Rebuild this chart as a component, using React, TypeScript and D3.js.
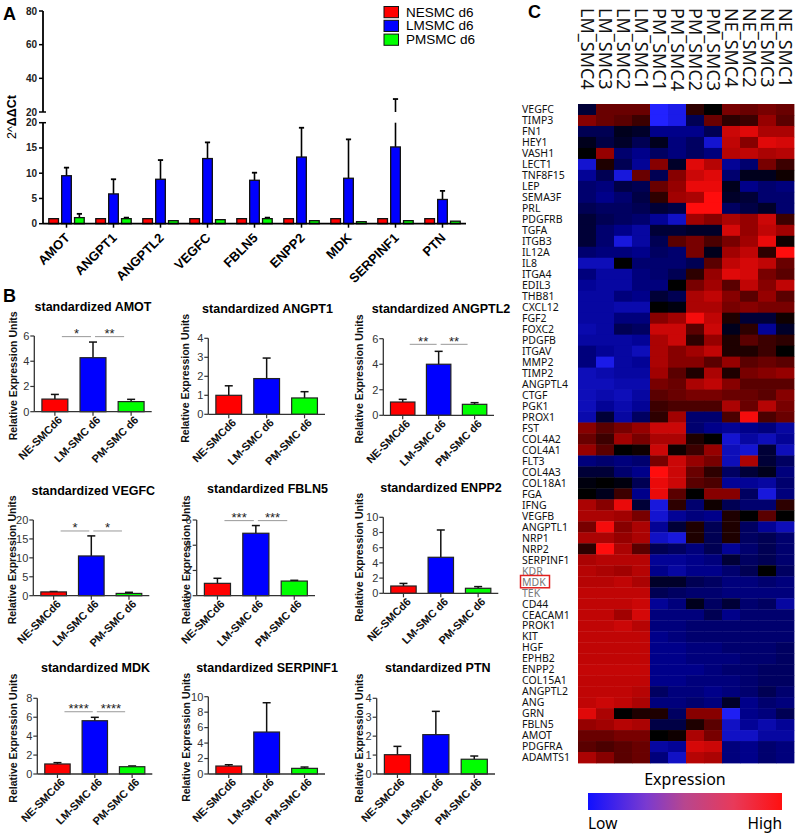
import React from "react";
import * as d3 from "d3";

const ARIAL = "'Liberation Sans', Arial, Helvetica, sans-serif";
const SANS = "'Noto Sans', 'DejaVu Sans', sans-serif";

// ---------- panel A : 2^ΔΔCt per gene ----------
const genesA = ["AMOT", "ANGPT1", "ANGPTL2", "VEGFC", "FBLN5", "ENPP2", "MDK", "SERPINF1", "PTN"];
const seriesA = ["NESMC d6", "LMSMC d6", "PMSMC d6"];
const neA = [1, 1, 1, 1, 1, 1, 1, 1, 1];
const neSdA = [0, 0, 0, 0, 0, 0, 0, 0, 0];
const lmA = [9.5, 5.9, 8.8, 12.9, 8.6, 13.2, 9.0, 15.2, 4.8];
const lmSdA = [1.6, 2.9, 3.8, 3.2, 1.5, 5.8, 7.7, 12.5, 1.7];
const pmA = [1.2, 1.0, 0.6, 0.8, 1.0, 0.6, 0.4, 0.6, 0.5];
const pmSdA = [0.75, 0.2, 0, 0, 0.2, 0, 0, 0, 0];
const lowTicksA = [0, 5, 10, 15, 20];
const highTicksA = [20, 40, 60, 80];

// ---------- panel B : standardized expression ----------
const genesB = ["AMOT", "ANGPT1", "ANGPTL2", "VEGFC", "FBLN5", "ENPP2", "MDK", "SERPINF1", "PTN"];
const groupsB = ["NE-SMCd6", "LM-SMC d6", "PM-SMC d6"];
const maxB = [6, 4, 6, 20, 6, 10, 8, 10, 4];
const stepB = [2, 1, 2, 5, 2, 2, 2, 2, 1];
const neB = [1.0, 1.0, 1.04, 1.0, 0.98, 0.96, 1.06, 1.03, 1.02];
const neSdB = [0.37, 0.5, 0.21, 0.1, 0.4, 0.34, 0.14, 0.17, 0.44];
const lmB = [4.28, 1.88, 4.0, 10.5, 4.95, 4.74, 5.63, 5.43, 2.08];
const lmSdB = [1.24, 1.08, 1.01, 5.3, 0.61, 3.59, 0.36, 3.79, 1.23];
const pmB = [0.8, 0.86, 0.86, 0.6, 1.16, 0.66, 0.77, 0.73, 0.78];
const pmSdB = [0.18, 0.33, 0.13, 0.3, 0.06, 0.22, 0.08, 0.17, 0.17];
const sigLeftB = ["*", "", "**", "*", "***", "", "****", "", ""];
const sigRightB = ["**", "", "**", "*", "***", "", "****", "", ""];
const sigLevelB = [5.95, 0, 5.56, 17.1, 5.95, 0, 6.58, 0, 0];

// plot frames of the 3x3 grid (layout only)
const framesB = [
  { x0: 34.3, x1: 151.7, yTop: 336, yBot: 411.7, tx: 93, ty: 311, lx: 13 },
  { x0: 208.3, x1: 325, yTop: 338.3, yBot: 414.3, tx: 267.5, ty: 313, lx: 185 },
  { x0: 383.3, x1: 494, yTop: 338.7, yBot: 415.3, tx: 441, ty: 313, lx: 359 },
  { x0: 33.3, x1: 149.3, yTop: 520, yBot: 595.7, tx: 93.3, ty: 495, lx: 12 },
  { x0: 196.7, x1: 315, yTop: 520, yBot: 595.7, tx: 267.5, ty: 493, lx: 186 },
  { x0: 383.3, x1: 498.3, yTop: 517.3, yBot: 593.3, tx: 441, ty: 492, lx: 359 },
  { x0: 37.3, x1: 152.3, yTop: 698.3, yBot: 774, tx: 95.5, ty: 672, lx: 13 },
  { x0: 208.3, x1: 325, yTop: 696.7, yBot: 774, tx: 267, ty: 672, lx: 186 },
  { x0: 376.7, x1: 495, yTop: 698.3, yBot: 774, tx: 437.8, ty: 672, lx: 359 },
];

// ---------- panel C : heatmap ----------
const samplesC = ["LM_SMC4", "LM_SMC3", "LM_SMC2", "LM_SMC1", "PM_SMC1", "PM_SMC4", "PM_SMC2", "PM_SMC3", "NE_SMC4", "NE_SMC2", "NE_SMC3", "NE_SMC1"];
const genesC = ["VEGFC", "TIMP3", "FN1", "HEY1", "VASH1", "LECT1", "TNF8F15", "LEP", "SEMA3F", "PRL", "PDGFRB", "TGFA", "ITGB3", "IL12A", "IL8", "ITGA4", "EDIL3", "THB81", "CXCL12", "FGF2", "FOXC2", "PDGFB", "ITGAV", "MMP2", "TIMP2", "ANGPTL4", "CTGF", "PGK1", "PROX1", "FST", "COL4A2", "COL4A1", "FLT3", "COL4A3", "COL18A1", "FGA", "IFNG", "VEGFB", "ANGPTL1", "NRP1", "NRP2", "SERPINF1", "KDR", "MDK", "TEK", "CD44", "CEACAM1", "PROK1", "KIT", "HGF", "EPHB2", "ENPP2", "COL15A1", "ANGPTL2", "ANG", "GRN", "FBLN5", "AMOT", "PDGFRA", "ADAMTS1"];
const greyGenesC = ["KDR", "MDK", "TEK"];
const heatC = [
  [-0.2, 0.35, 0.35, 0.35, -1, -0.9, 0.15, 0.0, 0.4, 0.35, 0.4, 0.35],
  [0.45, 0.35, 0.3, 0.2, -1, -0.9, -0.3, 0.35, 0.15, 0.2, 0.5, 0.3],
  [-0.3, -0.3, -0.1, -0.15, -0.5, -0.5, -0.5, -0.3, 0.75, 0.85, 0.6, 0.6],
  [-0.1, -0.25, -0.15, -0.3, -0.1, -0.45, -0.35, -0.8, 0.7, 0.45, 0.85, 0.8],
  [0, 0.5, -0.4, -0.5, -0.35, -0.45, -0.35, -0.45, 0.65, 0.7, 0.6, 0.65],
  [-0.8, 0.1, -0.3, -0.55, 0.45, -0.15, 0.85, 0.65, -0.55, -0.4, 0.4, 0.2],
  [-0.55, -0.3, -0.85, 0.35, -0.3, 0.45, 0.75, 0.85, -0.4, -0.1, -0.1, 0.05],
  [-0.4, -0.45, -0.25, -0.3, 0.35, 0.5, 0.9, 0.9, -0.1, -0.5, -0.4, -0.45],
  [-0.4, -0.5, -0.4, -0.25, 0.15, 0.55, 0.6, 1, -0.15, -0.2, -0.4, -0.4],
  [-0.3, -0.35, -0.35, -0.3, -0.2, -0.25, 1, 1, -0.35, -0.25, -0.15, -0.4],
  [-0.2, -0.3, -0.35, -0.4, -0.55, -0.75, 0.55, 0.45, 0.6, 0.5, 0.75, 0.2],
  [-0.2, -0.4, -0.5, -0.6, -0.2, -0.2, -0.15, -0.15, 0.8, 0.5, 0.7, 0.55],
  [-0.2, -0.4, -0.85, -0.6, -0.3, 0.3, 0.4, 0.25, 0.4, 0.55, 0.9, 0.05],
  [-0.4, -0.45, -0.45, -0.5, -0.35, -0.4, 0.4, -0.1, 0.55, 0.7, 0.15, 1],
  [-0.7, -0.7, 0, -0.4, -0.4, -0.4, -0.3, 0.3, 0.7, 0.8, 0.7, 0.35],
  [-0.45, -0.6, -0.6, -0.45, -0.4, -0.3, 0.15, 0.5, 0.85, 0.8, 0.4, 0.3],
  [-0.55, -0.6, -0.6, -0.45, -0.45, 0, 0.4, 0.55, 0.3, 0.7, 0.45, 0.7],
  [-0.6, -0.6, -0.45, -0.5, -0.2, -0.3, 0.6, 0.7, 0.45, 0.3, 0.5, 0.3],
  [-0.6, -0.6, -0.65, -0.65, 0, -0.05, 0.6, 0.6, 0.4, 0.45, 0.4, 0.4],
  [-0.6, -0.6, -0.45, -0.45, 0.45, 0.55, 0.95, 0.7, 0.1, -0.2, -0.2, 0.05],
  [-0.65, -0.6, -0.3, -0.35, 0.75, 0.75, 0.3, 0.75, -0.1, 0.15, -0.55, -0.15],
  [-0.6, -0.6, -0.6, -0.55, 0.6, 0.75, 0.15, 0.5, 0.1, 0.3, 0.2, 0.15],
  [-0.45, -0.55, -0.6, -0.7, 0.6, 0.45, 0.55, 0.7, 0.1, 0.1, 0.2, 0],
  [-0.45, -0.9, -0.6, -0.55, 0.6, 0.45, 0.45, 0.3, 0.5, 0.3, 0.35, 0.3],
  [-0.7, -0.65, -0.6, -0.6, 0.55, 0.3, 0.1, 0.6, 0.1, 0.4, 0.45, 0.5],
  [-0.7, -0.7, -0.65, -0.65, 0.4, 0.35, 0.6, 0.7, 0.45, 0.3, 0.3, 0.3],
  [-0.7, -0.65, -0.7, -0.6, 0.3, 0.35, 0.4, 0.4, 0.35, 0.35, 0.3, 0.45],
  [-0.7, -0.55, -0.65, -0.55, 0.2, 0.25, 0.25, 0.25, 0.6, 0.35, 0.65, 0.4],
  [-0.65, -0.2, -0.6, -0.35, 0.15, 0.55, -0.4, -0.4, 0.25, 0.95, 0.25, 0.35],
  [0.45, 0.3, 0.4, 0.5, 0.75, 0.75, -0.4, -0.5, -0.55, -0.5, -0.45, -0.6],
  [0.35, 0.2, 0.55, 0.4, 0.6, 0.6, 0.1, 0, -0.8, -0.6, -0.7, -0.55],
  [0.5, 0.3, 0, 0.05, 0.75, 0.05, 0.2, 0.5, -0.7, -0.8, -0.2, -0.7],
  [-0.45, -0.4, -0.45, -0.4, 0.4, 0.75, 0.5, 0.4, -0.7, 0.6, -0.2, -0.35],
  [-0.2, -0.2, -0.4, -0.5, 1, 0.75, 0.35, 0.15, -0.35, -0.2, -0.1, -0.45],
  [-0.05, 0, -0.05, -0.3, 0.9, 0.75, 0.3, 0.25, -0.55, -0.55, -0.6, -0.4],
  [0, -0.1, 0.2, -0.5, 0.9, 0.3, 0, 0.45, 0.45, -0.35, -0.85, -0.45],
  [0.6, 0.45, 0.9, -0.2, -0.85, 0.15, -0.4, 0.05, -0.3, -0.4, -0.4, 0.15],
  [0.6, 0.6, 0.55, 0.4, -0.8, -0.55, -0.45, -0.5, 0.1, 0, 0.3, 0],
  [0.4, 0.95, 0.45, 0.6, -0.55, -0.2, 0.1, -0.3, 0.1, -0.35, -0.55, -0.7],
  [0.6, 0.6, 0.5, 0.6, -0.75, -0.85, 0.1, -0.3, 0.1, -0.35, -0.3, -0.4],
  [0.15, 1, 0.6, 0.3, -0.3, -0.35, -0.45, -0.3, -0.55, -0.4, -0.3, -0.4],
  [0.6, 0.65, 0.65, 0.65, -0.55, -0.55, -0.5, -0.45, -0.2, -0.35, -0.3, -0.4],
  [0.65, 0.6, 0.55, 0.65, -0.5, -0.6, -0.5, -0.5, -0.4, -0.3, 0, -0.35],
  [0.65, 0.65, 0.7, 0.6, -0.15, -0.15, -0.3, -0.35, -0.45, -0.45, -0.4, -0.45],
  [0.7, 0.7, 0.7, 0.7, -0.3, -0.35, -0.4, -0.4, -0.45, -0.45, -0.45, -0.45],
  [0.7, 0.7, 0.7, 0.75, -0.55, -0.45, -0.1, -0.35, -0.2, -0.4, -0.35, -0.6],
  [0.7, 0.7, 0.55, 0.8, -0.45, -0.45, -0.45, -0.3, -0.5, -0.4, -0.4, -0.4],
  [0.7, 0.7, 0.75, 0.65, -0.45, -0.45, -0.4, -0.4, -0.4, -0.4, -0.4, -0.4],
  [0.7, 0.7, 0.7, 0.7, -0.5, -0.45, -0.4, -0.4, -0.4, -0.4, -0.4, -0.4],
  [0.7, 0.7, 0.7, 0.7, -0.5, -0.5, -0.45, -0.45, -0.4, -0.4, -0.4, -0.35],
  [0.7, 0.7, 0.7, 0.7, -0.5, -0.5, -0.45, -0.45, -0.45, -0.4, -0.4, -0.35],
  [0.72, 0.72, 0.72, 0.72, -0.5, -0.5, -0.5, -0.45, -0.4, -0.4, -0.35, -0.35],
  [0.7, 0.7, 0.7, 0.7, -0.5, -0.5, -0.45, -0.45, -0.45, -0.4, -0.35, -0.35],
  [0.7, 0.7, 0.7, 0.65, -0.35, -0.45, -0.45, -0.5, -0.45, -0.4, -0.3, -0.4],
  [0.7, 0.75, 0.7, 0.6, -0.45, -0.45, -0.4, -0.45, -0.15, -0.5, -0.4, -0.45],
  [0.85, 0.6, 0, 0.1, 0.1, -0.35, 0.45, 0.45, -0.95, -0.5, -0.45, -0.3],
  [0.5, 0.55, 0.65, 0.6, -0.25, -0.25, 0.1, 0.3, -0.75, -0.55, -0.65, -0.55],
  [0.35, 0.35, 0.4, 0.4, 0, 0.05, 0.6, 0.4, -0.75, -0.75, -0.6, -0.6],
  [0.3, 0.25, 0.3, 0.35, -0.6, -0.55, 0.8, 0.75, -0.45, -0.5, -0.4, -0.45],
  [0.6, 0.45, 0.3, 0.35, -0.45, -0.75, 0.65, 0.6, -0.45, -0.5, -0.4, -0.45],
];

const barColors = ["#ff0000", "#0000ff", "#00ff00"];

const PanelA = () => {
  const left = 43, right = 466, base = 223.7;
  const xg = d3.scaleBand<string>().domain(genesA).range([left, right]);
  const xs = d3.scaleBand<number>().domain([0, 1, 2]).range([0, xg.bandwidth()]).paddingInner(0.25).paddingOuter(0.45);
  const yLow = d3.scaleLinear().domain([0, 20]).range([base, 122.7]);
  const yHigh = d3.scaleLinear().domain([20, 80]).range([112, 11]);
  const vals = [neA, lmA, pmA];
  const sds = [neSdA, lmSdA, pmSdA];

  return (
    <g fontFamily={ARIAL}>
      <text x={3} y={20} fontSize={18} fontWeight="bold">A</text>
      <text transform="translate(15.5,117) rotate(-90)" textAnchor="middle" fontSize={12.5}>
        2^<tspan fontWeight="bold">ΔΔCt</tspan>
      </text>

      {genesA.map((g, i) => (
        <g key={g}>
          {vals.map((v, s) => {
            const bx = xg(g)! + xs(s)!;
            const w = xs.bandwidth();
            const cx = bx + w / 2;
            const sd = sds[s][i];
            const top = v[i] + sd;
            const segs: number[][] = [];
            if (sd > 0) {
              if (top <= 20) segs.push([yLow(v[i]), yLow(top)]);
              else {
                segs.push([yLow(v[i]), yLow(20)]);
                segs.push([yHigh(20), yHigh(top)]);
              }
            }
            const capY = top <= 20 ? yLow(top) : yHigh(top);
            return (
              <g key={s}>
                {segs.map(([a, b], k) => (
                  <line key={k} x1={cx} x2={cx} y1={a} y2={b} stroke="#000" strokeWidth={1.6} />
                ))}
                {sd > 0 && <line x1={cx - 2.6} x2={cx + 2.6} y1={capY} y2={capY} stroke="#000" strokeWidth={1.8} />}
                <rect x={bx} y={yLow(v[i])} width={w} height={base - yLow(v[i])} fill={barColors[s]} stroke="#111" strokeWidth={1.3} />
              </g>
            );
          })}
        </g>
      ))}

      {/* broken y axis */}
      <line x1={left} x2={left} y1={yHigh(80)} y2={yHigh(20)} stroke="#000" strokeWidth={1.8} />
      <line x1={left} x2={left} y1={yLow(20)} y2={base} stroke="#000" strokeWidth={1.8} />
      <line x1={left} x2={left + 3} y1={yHigh(20)} y2={yHigh(20)} stroke="#000" strokeWidth={1.5} />
      <line x1={left} x2={left + 3} y1={yLow(20)} y2={yLow(20)} stroke="#000" strokeWidth={1.5} />
      {highTicksA.map((t) => (
        <g key={"h" + t}>
          <line x1={left - 4} x2={left} y1={yHigh(t)} y2={yHigh(t)} stroke="#000" strokeWidth={1.5} />
          <text x={left - 6} y={yHigh(t)} dy="0.35em" textAnchor="end" fontSize={10} fontWeight="bold" fill="#222">{t}</text>
        </g>
      ))}
      {lowTicksA.map((t) => (
        <g key={"l" + t}>
          <line x1={left - 4} x2={left} y1={yLow(t)} y2={yLow(t)} stroke="#000" strokeWidth={1.5} />
          <text x={left - 6} y={yLow(t)} dy="0.35em" textAnchor="end" fontSize={10} fontWeight="bold" fill="#222">{t}</text>
        </g>
      ))}

      {/* x axis */}
      <line x1={left} x2={right} y1={base} y2={base} stroke="#000" strokeWidth={1.8} />
      {genesA.map((g) => {
        const cx = xg(g)! + xg.bandwidth() / 2;
        return (
          <g key={"x" + g}>
            <line x1={cx} x2={cx} y1={base} y2={base + 4} stroke="#000" strokeWidth={1.5} />
            <text transform={`translate(${cx + 4},${base + 15}) rotate(-45)`} textAnchor="end" fontSize={13} fontWeight="bold">{g}</text>
          </g>
        );
      })}

      {/* legend */}
      {seriesA.map((s, i) => (
        <g key={s}>
          <rect x={384} y={6.5 + i * 13.8} width={14.5} height={11.2} fill={barColors[i]} stroke="#111" strokeWidth={1} />
          <text x={406} y={16.5 + i * 13.8} fontSize={13.5}>{s}</text>
        </g>
      ))}
    </g>
  );
};

const SubPlot = ({ i }: { i: number }) => {
  const f = framesB[i];
  const y = d3.scaleLinear().domain([0, maxB[i]]).range([f.yBot, f.yTop]);
  const x = d3.scaleBand<string>().domain(groupsB).range([f.x0, f.x1]).paddingInner(0.32).paddingOuter(0.2);
  const ticks = d3.range(0, maxB[i] + 0.001, stepB[i]);
  const vals = [neB[i], lmB[i], pmB[i]];
  const sds = [neSdB[i], lmSdB[i], pmSdB[i]];
  const c = groupsB.map((g) => x(g)! + x.bandwidth() / 2);
  const sy = y(sigLevelB[i]);
  return (
    <g fontFamily={ARIAL}>
      <text x={f.tx} y={f.ty} textAnchor="middle" fontSize={12.5} fontWeight="bold">standardized {genesB[i]}</text>
      <text transform={`translate(${f.lx + 4},${(f.yTop + f.yBot) / 2 + 2}) rotate(-90)`} textAnchor="middle" fontSize={10.5} fontWeight="bold" fill="#111">Relative Expression Units</text>

      {groupsB.map((g, k) => {
        const top = vals[k] + sds[k];
        return (
          <g key={g}>
            <line x1={c[k]} x2={c[k]} y1={y(vals[k])} y2={y(top)} stroke="#111" strokeWidth={1.5} />
            <line x1={c[k] - 4} x2={c[k] + 4} y1={y(top)} y2={y(top)} stroke="#111" strokeWidth={1.5} />
            <rect x={x(g)} y={y(vals[k])} width={x.bandwidth()} height={f.yBot - y(vals[k])} fill={barColors[k]} stroke="#222" strokeWidth={1.2} />
          </g>
        );
      })}

      {sigLeftB[i] && (
        <g>
          <line x1={c[0] + 7} x2={c[1] - 2} y1={sy} y2={sy} stroke="#999" strokeWidth={1} />
          <line x1={c[1] + 2} x2={c[2] - 7} y1={sy} y2={sy} stroke="#999" strokeWidth={1} />
          <text x={(c[0] + c[1]) / 2 + 2.5} y={sy + 1.5} textAnchor="middle" fontSize={13} fill="#222">{sigLeftB[i]}</text>
          <text x={(c[1] + c[2]) / 2 - 2.5} y={sy + 1.5} textAnchor="middle" fontSize={13} fill="#222">{sigRightB[i]}</text>
        </g>
      )}

      <line x1={f.x0} x2={f.x0} y1={f.yTop} y2={f.yBot} stroke="#333" strokeWidth={1.3} />
      <line x1={f.x0} x2={f.x1} y1={f.yBot} y2={f.yBot} stroke="#333" strokeWidth={1.3} />
      {ticks.map((t) => (
        <g key={t}>
          <line x1={f.x0 - 4} x2={f.x0} y1={y(t)} y2={y(t)} stroke="#333" strokeWidth={1.2} />
          <text x={f.x0 - 5} y={y(t)} dy="0.35em" textAnchor="end" fontSize={11} fill="#333">{t}</text>
        </g>
      ))}
      {groupsB.map((g, k) => (
        <g key={"x" + g}>
          <line x1={c[k]} x2={c[k]} y1={f.yBot} y2={f.yBot + 4} stroke="#333" strokeWidth={1.2} />
          <text transform={`translate(${c[k] + 8},${f.yBot + 9}) rotate(-45)`} textAnchor="end" fontSize={11} fontWeight="bold" fill="#111">{g}</text>
        </g>
      ))}
    </g>
  );
};

const PanelC = () => {
  const x = d3.scaleBand<string>().domain(samplesC).range([578, 794]);
  const y = d3.scaleBand<string>().domain(genesC).range([104, 763]);
  const color = d3
    .scaleLinear<string>()
    .domain([-1, -0.5, 0, 0.5, 1])
    .range(["#2222ff", "#00008a", "#000000", "#960000", "#ff0d0d"])
    .clamp(true);
  const mdkY = y("MDK")! + y.bandwidth() / 2;
  return (
    <g fontFamily={SANS}>
      <text x={528} y={18} fontSize={18} fontWeight="bold" fontFamily={ARIAL}>C</text>
      {samplesC.map((s) => {
        const cx = x(s)! + x.bandwidth() / 2;
        return (
          <text key={s} transform={`translate(${cx - 6.3},8) rotate(90)`} fontSize={18} fill="#111">{s}</text>
        );
      })}
      {genesC.map((g, r) =>
        samplesC.map((s, k) => (
          <rect key={g + s} x={x(s)} y={y(g)} width={x.bandwidth() + 0.4} height={y.bandwidth() + 0.4} fill={color(heatC[r][k])} />
        ))
      )}
      {genesC.map((g) => (
        <text key={"l" + g} x={522} y={y(g)! + y.bandwidth() / 2} dy="0.36em" fontSize={10.5} fill={greyGenesC.includes(g) ? "#777" : "#111"}>{g}</text>
      ))}
      <rect x={520.5} y={mdkY - 6.3} width={29} height={12.3} fill="none" stroke="#e02020" strokeWidth={1.5} />

      <defs>
        <linearGradient id="exprGrad" x1="0" x2="1" y1="0" y2="0">
          <stop offset="0" stopColor="#1010ff" />
          <stop offset="0.3" stopColor="#7a3ad0" />
          <stop offset="0.5" stopColor="#b8468e" />
          <stop offset="0.75" stopColor="#e83a5a" />
          <stop offset="1" stopColor="#ff1010" />
        </linearGradient>
      </defs>
      <text x={685} y={785} textAnchor="middle" fontSize={16}>Expression</text>
      <rect x={588} y={793} width={194} height={17} fill="url(#exprGrad)" />
      <text x={588} y={829} fontSize={15.5}>Low</text>
      <text x={782} y={829} textAnchor="end" fontSize={15.5}>High</text>
    </g>
  );
};

const App = () => (
  <svg width={795} height={834} style={{ position: "absolute", left: 0, top: 0, background: "#fff" }}>
    <PanelA />
    <text x={3} y={302} fontSize={18} fontWeight="bold" fontFamily={ARIAL}>B</text>
    {genesB.map((g, i) => (
      <SubPlot key={g} i={i} />
    ))}
    <PanelC />
  </svg>
);

export default App;
